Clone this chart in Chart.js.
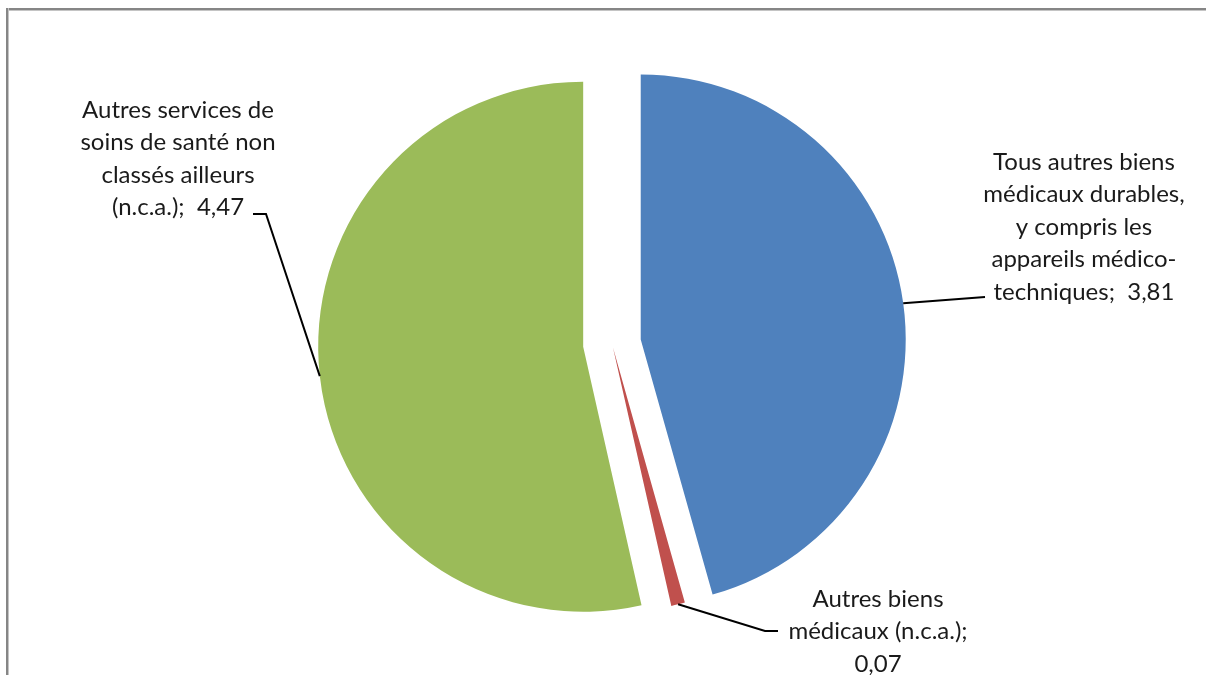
<!DOCTYPE html>
<html>
<head>
<meta charset="utf-8">
<script src="https://cdn.jsdelivr.net/npm/chart.js@4/dist/chart.umd.min.js"></script>
<style>
  html, body { margin: 0; padding: 0; background: #fff; overflow: hidden; }
  #wrap { position: relative; width: 1206px; height: 675px; overflow: hidden; }
  #topline { position: absolute; left: 6px; top: 8px; width: 1200px; height: 2px; background: #868686;
             border-bottom: 1px solid #c4c4c4; }
  #leftline { position: absolute; left: 6px; top: 8px; width: 2px; height: 667px; background: #868686;
              border-right: 1px solid #c4c4c4; }
  canvas { position: absolute; left: 0; top: 0; }
</style>
</head>
<body>
<div id="wrap">
  <div id="topline"></div>
  <div id="leftline"></div>
  <canvas id="c" width="1206" height="675"></canvas>
</div>
<script>
// ---- data ----
const categories = [
  "Tous autres biens médicaux durables, y compris les appareils médico-techniques",
  "Autres biens médicaux (n.c.a.)",
  "Autres services de soins de santé non classés ailleurs (n.c.a.)"
];
const values = [3.81, 0.07, 4.47];
const labelLines = [
  ["Tous autres biens", "médicaux durables,", "y compris les", "appareils médico-", "techniques;  {v}"],
  ["Autres biens", "médicaux (n.c.a.);", "{v}"],
  ["Autres services de", "soins de santé non", "classés ailleurs", "(n.c.a.);  {v}"]
];

// ---- styling ----
const colors = ["#4F81BD", "#C0504D", "#9BBB59"];
const explode = [29, 4, 29];
const labelPos = [ {x: 1084, y: 162}, {x: 878, y: 599}, {x: 178, y: 110} ];
const lineH = 32.5;
// leader line elbows (after the anchor on the slice edge)
const leaders = [
  [{x: 985, y: 297}],
  [{x: 765, y: 631}, {x: 778, y: 631}],
  [{x: 266, y: 214}, {x: 253, y: 214}]
];
const FONT = '24px Lato, "Open Sans", sans-serif';

const explodePlugin = {
  id: 'explode',
  beforeDatasetsDraw(chart) {
    const meta = chart.getDatasetMeta(0);
    meta.data.forEach((arc, i) => {
      if (arc._patched) return;
      arc._patched = true;
      arc.draw = function(ctx, area) {
        const mid = (this.startAngle + this.endAngle) / 2;
        ctx.save();
        ctx.translate(Math.cos(mid) * explode[i], Math.sin(mid) * explode[i]);
        Chart.ArcElement.prototype.draw.call(this, ctx, area);
        ctx.restore();
      };
    });
  }
};

const labelPlugin = {
  id: 'pieLabels',
  afterDatasetsDraw(chart) {
    const ctx = chart.ctx;
    const meta = chart.getDatasetMeta(0);
    ctx.save();
    meta.data.forEach((arc, i) => {
      const p = arc.getProps(['x', 'y', 'startAngle', 'endAngle', 'outerRadius'], true);
      const mid = (p.startAngle + p.endAngle) / 2;
      const r = p.outerRadius + explode[i];
      const ax = p.x + Math.cos(mid) * r, ay = p.y + Math.sin(mid) * r;
      ctx.strokeStyle = '#000';
      ctx.lineWidth = 2;
      ctx.beginPath();
      ctx.moveTo(ax, ay);
      leaders[i].forEach(pt => ctx.lineTo(pt.x, pt.y));
      ctx.stroke();

      const v = values[i].toFixed(2).replace('.', ',');
      ctx.fillStyle = '#1a1a1a';
      ctx.font = FONT;
      ctx.textAlign = 'center';
      ctx.textBaseline = 'middle';
      labelLines[i].forEach((ln, k) => {
        ctx.fillText(ln.replace('{v}', v), labelPos[i].x, labelPos[i].y + k * lineH);
      });
    });
    ctx.restore();
  }
};

new Chart(document.getElementById('c'), {
  type: 'pie',
  data: {
    labels: categories,
    datasets: [{
      data: values,
      backgroundColor: colors,
      borderWidth: 0
    }]
  },
  options: {
    responsive: false,
    animation: false,
    radius: 265,
    layout: { padding: { left: 18, right: 0, top: 12, bottom: 0 } },
    plugins: { legend: { display: false }, tooltip: { enabled: false } },
    events: []
  },
  plugins: [explodePlugin, labelPlugin]
});
</script>
</body>
</html>
